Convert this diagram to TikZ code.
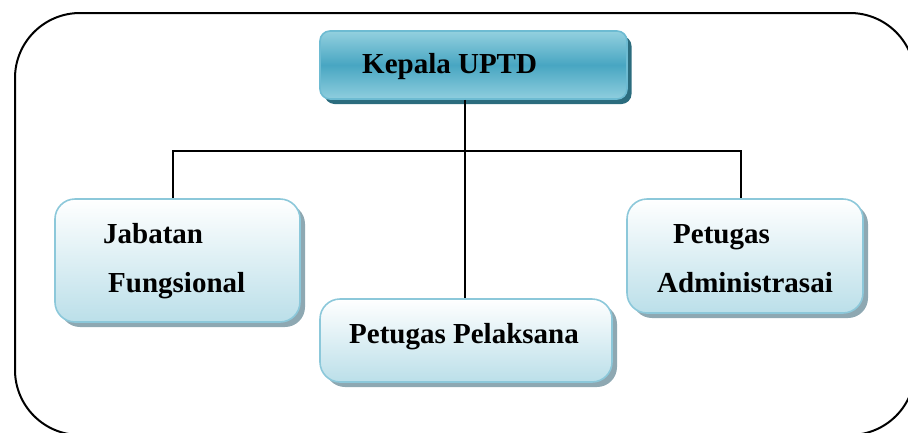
\documentclass[tikz,border=0pt]{standalone}
\usepackage{fontspec}
\setmainfont{Liberation Serif}
\usetikzlibrary{shadows}
\definecolor{kepTop}{HTML}{93D0DF}
\definecolor{kepMid}{HTML}{48A6C2}
\definecolor{kepBot}{HTML}{8FCEDE}
\definecolor{kepLine}{HTML}{6DBBD2}
\definecolor{kepShadow}{HTML}{2B6C7E}
\definecolor{boxTop}{HTML}{FFFFFF}
\definecolor{boxBot}{HTML}{BBDFE9}
\definecolor{boxLine}{HTML}{8CC8DA}
\definecolor{boxShadow}{HTML}{8EA8B2}
\tikzset{
  kepbox/.style={rounded corners=10pt, draw=kepLine, line width=1.6pt,
    top color=kepTop, bottom color=kepBot, middle color=kepMid,
    drop shadow={shadow xshift=4.5pt, shadow yshift=-5pt, fill=kepShadow, opacity=1},
    inner sep=0pt},
  subbox/.style={rounded corners=20pt, draw=boxLine, line width=1.6pt,
    top color=boxTop, bottom color=boxBot,
    drop shadow={shadow xshift=5pt, shadow yshift=-5pt, fill=boxShadow, opacity=1},
    inner sep=0pt},
  lbl/.style={anchor=base west, inner sep=0pt, font=\fontsize{29}{34}\selectfont\bfseries},
  conn/.style={line width=1.6pt, black},
  frame/.style={line width=2pt, black, rounded corners=65pt}
}
\begin{document}
\begin{tikzpicture}[x=1pt,y=-1pt]
\useasboundingbox (0,0) rectangle (908,432);
\clip (0,0) rectangle (908,432);
\draw[frame] (15,13) rectangle (915,435);
% junctions
\coordinate (jl) at (173,151);
\coordinate (jr) at (741,151);
\coordinate (jc) at (465,151);
% boxes
\node[subbox, minimum width=245pt, minimum height=123pt] (jab) at (177.5,260.5) {};
\node[subbox, minimum width=292pt, minimum height=83pt] (pel) at (466,340.5) {};
\node[subbox, minimum width=236pt, minimum height=114pt] (adm) at (745,256) {};
\node[kepbox, minimum width=307pt, minimum height=68pt] (kep) at (473.5,65) {};
% connectors
\draw[conn] (jab.north -| jl) -- (jl) -- (jr) -- (adm.north -| jr);
\draw[conn] (kep.south -| jc) -- (pel.north -| jc);
% labels
\node[lbl] (tkep) at (362,73) {Kepala UPTD};
\node[lbl] (tjab1) at (103,243) {Jabatan};
\node[lbl] (tjab2) at (108,292) {Fungsional};
\node[lbl] (tpel) at (349,343) {Petugas Pelaksana};
\node[lbl] (tadm1) at (673,243) {Petugas};
\node[lbl] (tadm2) at (657,292) {Administrasai};
\end{tikzpicture}
\end{document}
